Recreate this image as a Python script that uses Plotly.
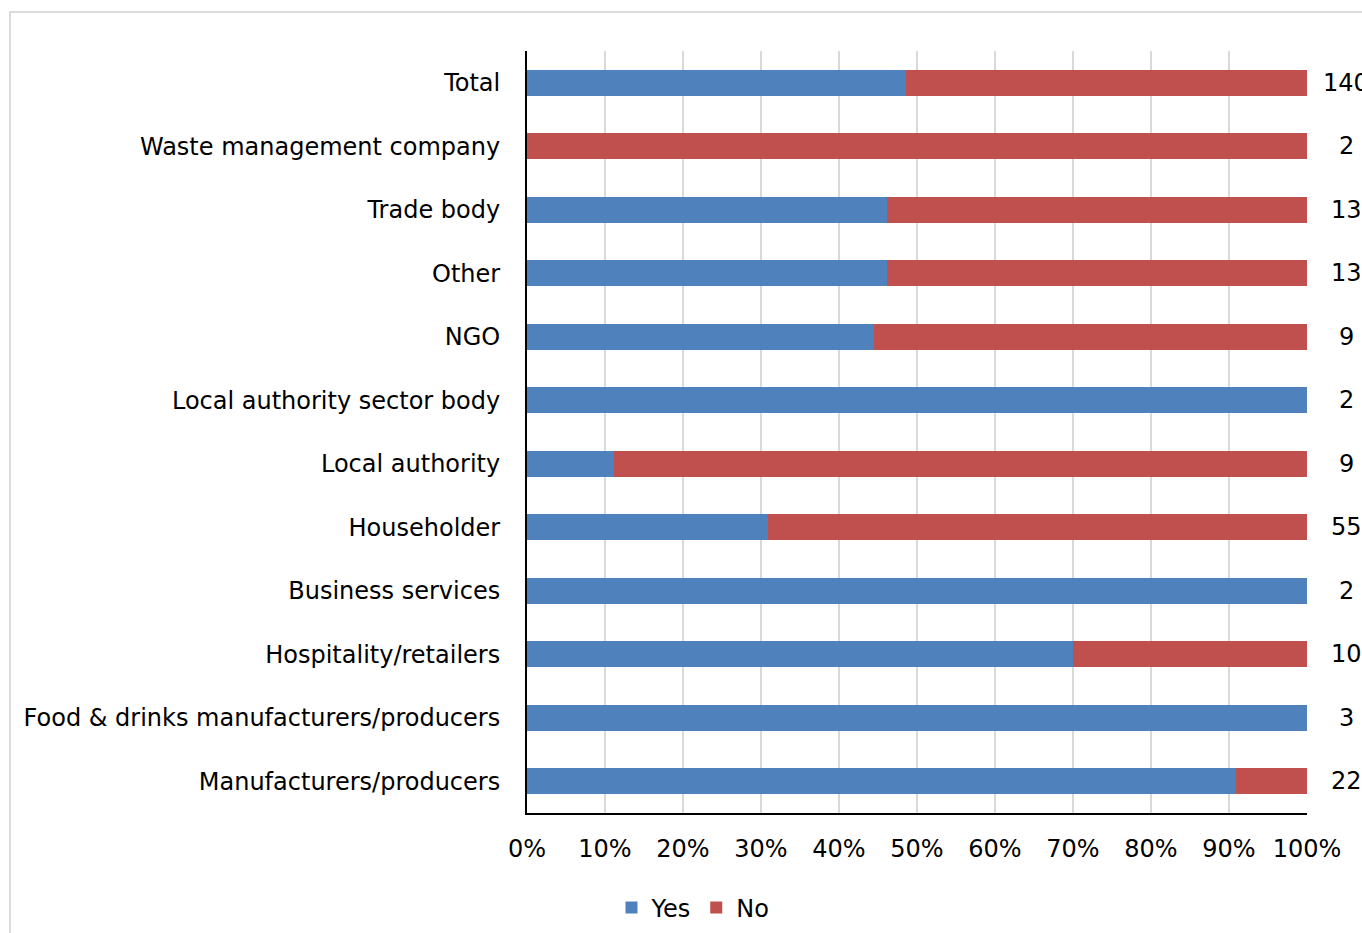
import plotly.graph_objects as go

# Respondent groups, listed top to bottom
categories = [
    "Total",
    "Waste management company",
    "Trade body",
    "Other",
    "NGO",
    "Local authority sector body",
    "Local authority",
    "Householder",
    "Business services",
    "Hospitality/retailers",
    "Food & drinks manufacturers/producers",
    "Manufacturers/producers",
]
yes_counts = [68, 0, 6, 6, 4, 2, 1, 17, 2, 7, 3, 20]
totals = [140, 2, 13, 13, 9, 2, 9, 55, 2, 10, 3, 22]
no_counts = [t - y for t, y in zip(totals, yes_counts)]

yes_share = [y / t for y, t in zip(yes_counts, totals)]
no_share = [n / t for n, t in zip(no_counts, totals)]

tick_vals = [i / 10 for i in range(11)]
tick_text = [f"{i * 10}%" for i in range(11)]

FONT = "DejaVu Sans"
BLUE = "#4F81BD"
RED = "#C0504D"

W, H = 1362, 933
L, R, T, B = 527, 55, 51, 120
plot_w = W - L - R
plot_h = H - T - B

fig = go.Figure()
fig.add_trace(go.Bar(
    y=categories, x=yes_share, name="Yes", orientation="h",
    marker=dict(color=BLUE, line=dict(width=0)),
))
fig.add_trace(go.Bar(
    y=categories, x=no_share, name="No", orientation="h",
    marker=dict(color=RED, line=dict(width=0)),
))

# Response counts to the right of each bar
for cat, n in zip(categories, totals):
    fig.add_annotation(
        x=1.0, y=cat, xref="paper", yref="y",
        text=str(n), showarrow=False, xanchor="center",
        xshift=39, font=dict(family=FONT, size=24, color="#000000"),
    )

# Outer chart frame
fig.add_shape(
    type="rect", xref="paper", yref="paper",
    x0=(10 - L) / plot_w, x1=(W + 20 - L) / plot_w,
    y0=-(H + 20 - T - plot_h) / plot_h, y1=1 + (T - 12) / plot_h,
    line=dict(color="#D0D0D0", width=1.5), fillcolor="rgba(0,0,0,0)",
    layer="below",
)

fig.update_layout(
    barmode="stack",
    bargap=0.59,
    width=W, height=H,
    margin=dict(l=L, r=R, t=T, b=B, autoexpand=False),
    paper_bgcolor="white", plot_bgcolor="white",
    font=dict(family=FONT, size=24, color="#000000"),
    showlegend=True,
    legend=dict(
        orientation="h", x=(693 - L) / plot_w, xanchor="center",
        y=-(908 - T - plot_h) / plot_h, yanchor="middle",
        font=dict(family=FONT, size=24), itemwidth=30,
        traceorder="normal",
    ),
    xaxis=dict(
        range=[0, 1], tickvals=tick_vals, ticktext=tick_text,
        showgrid=True, gridcolor="#D9D9D9", gridwidth=2,
        zeroline=False, showline=True, linecolor="#000000", linewidth=2,
        ticks="", ticklabelstandoff=13, fixedrange=True,
    ),
    yaxis=dict(
        categoryorder="array", categoryarray=categories[::-1],
        showgrid=False, zeroline=False,
        showline=True, linecolor="#000000", linewidth=2,
        ticks="", ticklabelstandoff=20, fixedrange=True,
    ),
)

fig.write_html("out.html")
